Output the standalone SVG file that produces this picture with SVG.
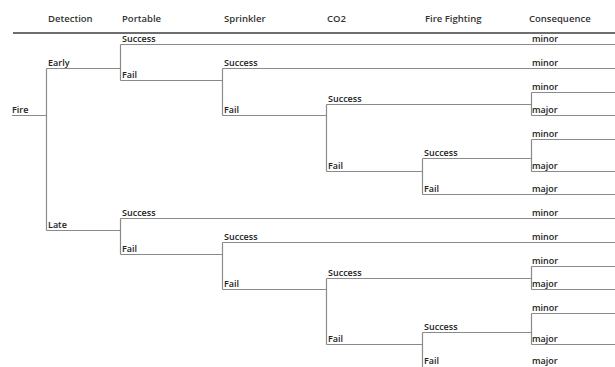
<svg xmlns="http://www.w3.org/2000/svg" width="615" height="367" viewBox="0 0 615 367">
<style>
.h{font-family:"Open Sans","Noto Sans",sans-serif;font-size:9.5px;font-weight:600;fill:#333}
.t{font-family:"Open Sans","Noto Sans",sans-serif;font-size:9px;font-weight:600;fill:#222}
.c line,.c path{stroke:#8a8a8a;stroke-width:1.2;fill:none}
.hl{stroke:#6e6e6e;stroke-width:2}
</style>
<rect width="615" height="367" fill="#ffffff"/>
<g id="header">
<text class="h" x="48" y="22">Detection</text>
<text class="h" x="122" y="22">Portable</text>
<text class="h" x="224" y="22">Sprinkler</text>
<text class="h" x="327" y="22">CO2</text>
<text class="h" x="425" y="22">Fire Fighting</text>
<text class="h" x="529" y="22">Consequence</text>
<line class="hl" x1="13" y1="33" x2="615" y2="33"/>
</g>
<g class="c" id="connectors">
<path d="M12,115.5H46.5M46.5,68.5V230.5M46.5,68.5H120.5M46.5,230.5H120.5"/>
<path d="M120.5,44.5V80.5M120.5,44.5H615M120.5,80.5H222.5"/>
<path d="M222.5,68.5V115.5M222.5,68.5H615M222.5,115.5H326.5"/>
<path d="M326.5,104.5V171.5M326.5,104.5H531.5M326.5,171.5H422.5"/>
<path d="M531.5,92.5V115.5M531.5,92.5H615M531.5,115.5H615"/>
<path d="M422.5,158.5V194.5M422.5,158.5H531.5M422.5,194.5H615"/>
<path d="M531.5,139.5V171.5M531.5,139.5H615M531.5,171.5H615"/>
<path d="M120.5,218.5V254.5M120.5,218.5H615M120.5,254.5H222.5"/>
<path d="M222.5,242.5V289.5M222.5,242.5H615M222.5,289.5H326.5"/>
<path d="M326.5,278.5V344.5M326.5,278.5H531.5M326.5,344.5H422.5"/>
<path d="M531.5,266.5V289.5M531.5,266.5H615M531.5,289.5H615"/>
<path d="M422.5,332.5V368.5M422.5,332.5H531.5M422.5,368.5H615"/>
<path d="M531.5,313.5V344.5M531.5,313.5H615M531.5,344.5H615"/>
</g>
<g id="n-fire"><text class="t" x="12" y="113">Fire</text></g>
<g id="n-early"><text class="t" x="48" y="66">Early</text></g>
<g id="n-late"><text class="t" x="48" y="228">Late</text></g>
<g id="n-e-portable-success"><text class="t" x="122" y="42">Success</text></g>
<g id="n-e-portable-fail"><text class="t" x="122" y="78">Fail</text></g>
<g id="n-e-sprinkler-success"><text class="t" x="224" y="66">Success</text></g>
<g id="n-e-sprinkler-fail"><text class="t" x="224" y="113">Fail</text></g>
<g id="n-e-co2-success"><text class="t" x="328" y="102">Success</text></g>
<g id="n-e-co2-fail"><text class="t" x="328" y="169">Fail</text></g>
<g id="n-e-ff-success"><text class="t" x="424" y="156">Success</text></g>
<g id="n-e-ff-fail"><text class="t" x="424" y="192">Fail</text></g>
<g id="n-e-c1"><text class="t" x="532" y="42">minor</text></g>
<g id="n-e-c2"><text class="t" x="532" y="66">minor</text></g>
<g id="n-e-c3"><text class="t" x="532" y="90">minor</text></g>
<g id="n-e-c4"><text class="t" x="532" y="113">major</text></g>
<g id="n-e-c5"><text class="t" x="532" y="137">minor</text></g>
<g id="n-e-c6"><text class="t" x="532" y="169">major</text></g>
<g id="n-e-c7"><text class="t" x="532" y="192">major</text></g>
<g id="n-l-portable-success"><text class="t" x="122" y="216">Success</text></g>
<g id="n-l-portable-fail"><text class="t" x="122" y="252">Fail</text></g>
<g id="n-l-sprinkler-success"><text class="t" x="224" y="240">Success</text></g>
<g id="n-l-sprinkler-fail"><text class="t" x="224" y="287">Fail</text></g>
<g id="n-l-co2-success"><text class="t" x="328" y="276">Success</text></g>
<g id="n-l-co2-fail"><text class="t" x="328" y="342">Fail</text></g>
<g id="n-l-ff-success"><text class="t" x="424" y="330">Success</text></g>
<g id="n-l-ff-fail"><text class="t" x="424" y="364">Fail</text></g>
<g id="n-l-c1"><text class="t" x="532" y="216">minor</text></g>
<g id="n-l-c2"><text class="t" x="532" y="240">minor</text></g>
<g id="n-l-c3"><text class="t" x="532" y="264">minor</text></g>
<g id="n-l-c4"><text class="t" x="532" y="287">major</text></g>
<g id="n-l-c5"><text class="t" x="532" y="311">minor</text></g>
<g id="n-l-c6"><text class="t" x="532" y="342">major</text></g>
<g id="n-l-c7"><text class="t" x="532" y="364">major</text></g>
</svg>
